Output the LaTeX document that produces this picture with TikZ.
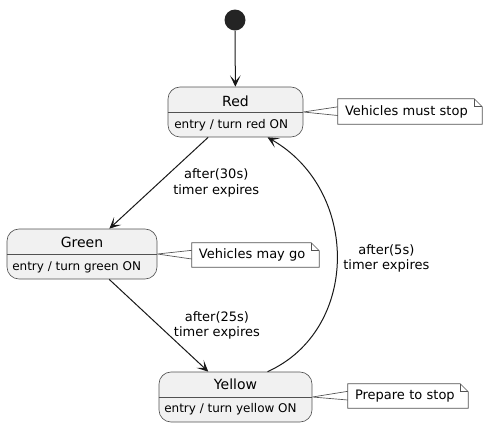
\documentclass[tikz,border=0pt]{standalone}
\usepackage{fontspec}
\setmainfont{DejaVu Sans}
\usepackage{tikz}
\usetikzlibrary{positioning,arrows.meta}
\definecolor{statefill}{HTML}{F1F1F1}
\definecolor{inkc}{HTML}{181818}
\tikzset{
  statebox/.style = {draw=inkc!75, line width=0.5pt, fill=statefill, rounded corners=9pt,
                     minimum height=37.5pt, inner sep=0pt},
  sttitle/.style  = {font=\fontsize{10.5}{12}\selectfont, inner sep=0pt},
  stentry/.style  = {font=\fontsize{9}{11}\selectfont, inner sep=0pt, anchor=west},
  divider/.style  = {draw=inkc!75, line width=0.5pt},
  initial/.style  = {circle, fill=inkc!95, minimum size=15.75pt, inner sep=0pt},
  trans/.style    = {-{Stealth[length=8.5pt, width=8pt, inset=4.5pt]}, line width=0.75pt, draw=inkc},
  lbl/.style      = {font=\fontsize{9.75}{11.5}\selectfont, align=center, inner sep=0pt},
  note/.style     = {font=\fontsize{9.75}{11.5}\selectfont, align=left, inner xsep=5.25pt,
                     inner ysep=0pt, minimum height=18pt},
  noteline/.style = {draw=inkc!75, line width=0.5pt},
}

\begin{document}
\begin{tikzpicture}[x=0.75pt, y=-0.75pt]
\useasboundingbox (0,0) rectangle (487,426);

% states, explicit pixel coordinates (y grows downwards)
\node[initial] (init) at (235,20) {};

\node[statebox, minimum width=101.25pt] (red) at (235.5,112) {};
\node[sttitle] (redT) at (235.5,101) {Red};
\node[stentry] (redE) at (174,125) {entry / turn red ON};
\draw[divider] (red.west) -- (red.east);

\node[statebox, minimum width=112.5pt] (green) at (82,254) {};
\node[sttitle] (greenT) at (82,242) {Green};
\node[stentry] (greenE) at (12,267) {entry / turn green ON};
\draw[divider] (green.west) -- (green.east);

\node[statebox, minimum width=114.75pt] (yellow) at (235.5,397) {};
\node[sttitle] (yellowT) at (235.5,384) {Yellow};
\node[stentry] (yellowE) at (164,409) {entry / turn yellow ON};
\draw[divider] (yellow.west) -- (yellow.east);

% notes
\node[note, text width=97.5pt, minimum height=18.75pt] (redN) at (410,111.5) {Vehicles must stop};
\node[note, text width=84.75pt] (greenN) at (255.5,255) {Vehicles may go};
\node[note, text width=79.5pt] (yellowN) at (408,396) {Prepare to stop};

\foreach \n in {redN, greenN, yellowN} {
  \draw[noteline] (\n.south west) -- (\n.north west) -- ([xshift=-6pt]\n.north east)
    -- ([yshift=-6pt]\n.north east) -- (\n.south east) -- cycle;
  \draw[noteline] ([xshift=-6pt]\n.north east) -- ([xshift=-6pt,yshift=-6pt]\n.north east)
    -- ([yshift=-6pt]\n.north east);
}
\draw[noteline] (red.east) -- ([yshift=3.5pt]redN.west) (red.east) -- ([yshift=-3pt]redN.west);
\draw[noteline] (green.east) -- ([yshift=3.5pt]greenN.west) (green.east) -- ([yshift=-3pt]greenN.west);
\draw[noteline] (yellow.east) -- ([yshift=3.5pt]yellowN.west) (yellow.east) -- ([yshift=-3pt]yellowN.west);

% transitions
\draw[trans] (init) -- (red);
\draw[trans] (red) -- node[lbl, right=10.5pt] {after(30s)\\timer expires} (green);
\draw[trans] (green) -- node[lbl, right=11pt] {after(25s)\\timer expires} (yellow);
\draw[trans] ([xshift=24pt]yellow.north) .. controls (360,330) and (360,190) ..
  node[lbl, right=4.5pt] {after(5s)\\timer expires} ([xshift=24pt]red.south);

\end{tikzpicture}
\end{document}
